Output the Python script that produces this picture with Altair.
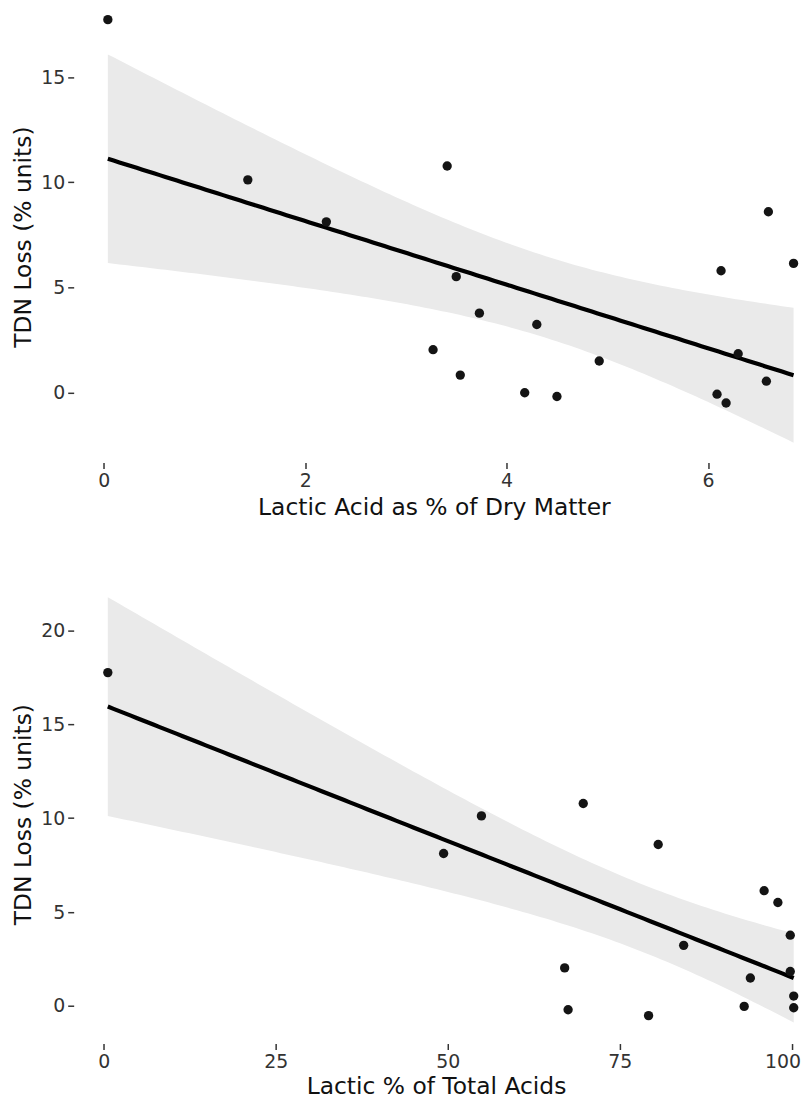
import altair as alt
import numpy as np
import pandas as pd

# ---- data ----
tdn_loss = [17.75, 10.12, 8.12, 10.78, 8.60, 5.79, 6.14, 5.51, 3.77, 3.23,
            2.03, 0.82, -0.02, -0.20, 1.49, 1.84, 0.53, -0.09, -0.51]
lactic_dm = [0.04, 1.43, 2.21, 3.41, 6.60, 6.13, 6.85, 3.50, 3.73, 4.30,
             3.27, 3.54, 4.18, 4.50, 4.92, 6.30, 6.58, 6.09, 6.18]
lactic_total = [0.58, 54.9, 49.4, 69.7, 80.6, None, 96.0, 98.0, 99.8, 84.3,
                67.0, None, 93.1, 67.5, 94.0, 99.8, 100.3, 100.3, 79.2]

top_xticks = [0, 2, 4, 6]
top_yticks = [0, 5, 10, 15]
bot_xticks = [0, 25, 50, 75, 100]
bot_yticks = [0, 5, 10, 15, 20]

x_title_top = "Lactic Acid as % of Dry Matter"
x_title_bot = "Lactic % of Total Acids"
y_title = "TDN Loss (% units)"

FONT = "DejaVu Sans"


def fit_band(xs, ys, tcrit):
    """OLS fit with 95% confidence band, built from the data arrays."""
    pairs = [(a, b) for a, b in zip(xs, ys) if a is not None]
    x = np.array([p[0] for p in pairs], float)
    y = np.array([p[1] for p in pairs], float)
    n = len(x)
    slope, inter = np.polyfit(x, y, 1)
    resid = y - (inter + slope * x)
    s = np.sqrt((resid ** 2).sum() / (n - 2))
    xm = x.mean()
    sxx = ((x - xm) ** 2).sum()
    grid = np.linspace(x.min(), x.max(), 120)
    fit = inter + slope * grid
    se = s * np.sqrt(1.0 / n + (grid - xm) ** 2 / sxx)
    band = pd.DataFrame({"x": grid, "fit": fit, "lo": fit - tcrit * se, "hi": fit + tcrit * se})
    pts = pd.DataFrame({"x": x, "y": y})
    return pts, band


def panel(xs, ys, tcrit, geo, xticks, yticks, xtitle, xtitle_pad, spacer):
    pts, band = fit_band(xs, ys, tcrit)
    left, right, top, bottom, x0, xppu, y0, yppu = geo
    xdom = [(left - x0) / xppu, (right - x0) / xppu]
    ydom = [(y0 - bottom) / yppu, (y0 - top) / yppu]
    w = right - left
    h = bottom - top
    xs_ = alt.Scale(domain=xdom, nice=False, zero=False)
    ys_ = alt.Scale(domain=ydom, nice=False, zero=False)
    last = max(xticks)
    xax = alt.Axis(
        values=xticks, title=xtitle, format="d", titlePadding=xtitle_pad,
        labelAlign={"condition": {"test": f"datum.value >= {last} && {last} >= 100", "value": "right"},
                    "value": "center"},
        labelOffset={"condition": {"test": f"datum.value >= {last} && {last} >= 100", "value": 9},
                     "value": 0},
    )
    yax = alt.Axis(values=yticks, title=y_title, format="d")

    area = alt.Chart(band).mark_area(color="#eaeaea", opacity=1, clip=True).encode(
        x=alt.X("x:Q", scale=xs_, axis=xax),
        y=alt.Y("lo:Q", scale=ys_, axis=yax),
        y2="hi:Q",
    )
    line = alt.Chart(band).mark_line(color="black", strokeWidth=4.2, clip=True).encode(
        x=alt.X("x:Q", scale=xs_),
        y=alt.Y("fit:Q", scale=ys_),
    )
    dots = alt.Chart(pts).mark_circle(size=88, color="#141414", opacity=1).encode(
        x=alt.X("x:Q", scale=xs_),
        y=alt.Y("y:Q", scale=ys_),
    )
    layers = [area, line, dots]
    if spacer is not None:
        pad = alt.Chart(pts).mark_rule(opacity=0, color="white").encode(
            x=alt.value(spacer), y=alt.value(0), y2=alt.value(2)
        )
        layers.append(pad)
    return alt.layer(*layers).properties(width=w, height=h)


# page-pixel geometry (left, right, top, bottom, x-zero px, px per x unit, y-zero px, px per y unit)
geo_top = (74, 798, 8, 462, 104.3, 101.2, 391.5, 21.1)
geo_bot = (69.7, 798, 585, 1046, 100.0, 6.913, 1008.3, 18.88)

top = panel(lactic_dm, tdn_loss, 2.1098, geo_top, top_xticks, top_yticks, x_title_top, 5, -66)
bot = panel(lactic_total, tdn_loss, 2.1314, geo_bot, bot_xticks, bot_yticks, x_title_bot, 3, None)

chart = alt.vconcat(top, bot, spacing=66).properties(
    padding={"left": 0, "top": 0, "right": 0, "bottom": 0},
    background="white",
).configure_view(stroke=None).configure_axis(
    domain=False,
    grid=False,
    ticks=True,
    tickColor="#333333",
    tickWidth=1.5,
    tickSize=6,
    labelFont=FONT,
    labelFontSize=19,
    labelColor="#333333",
    titleFont=FONT,
    titleFontSize=23.5,
    titleFontWeight="normal",
    titleColor="#111111",
).configure_axisLeft(labelPadding=3, titlePadding=5).configure_axisBottom(
    labelPadding=3
)

chart.save("out.html", embed_options={"renderer": "svg", "actions": False})
